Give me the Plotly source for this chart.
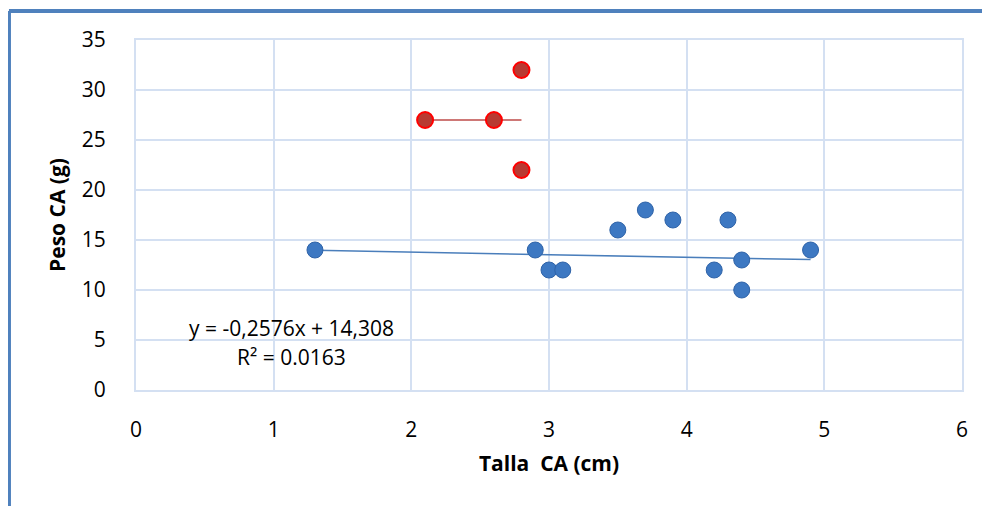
import plotly.graph_objects as go

# Data
talla_blue = [1.3, 2.9, 3.0, 3.1, 3.5, 3.7, 3.9, 4.2, 4.3, 4.4, 4.4, 4.9]
peso_blue = [14, 14, 12, 12, 16, 18, 17, 12, 17, 13, 10, 14]
talla_red = [2.1, 2.6, 2.8, 2.8]
peso_red = [27, 27, 32, 22]
slope_blue, intercept_blue = -0.2576, 14.308
red_trend_y = 27
x_ticks = [0, 1, 2, 3, 4, 5, 6]
y_ticks = [0, 5, 10, 15, 20, 25, 30, 35]

xb0, xb1 = min(talla_blue), max(talla_blue)
xr0, xr1 = min(talla_red), max(talla_red)

fig = go.Figure()
fig.add_trace(go.Scatter(x=[xb0, xb1],
                         y=[slope_blue * xb0 + intercept_blue, slope_blue * xb1 + intercept_blue],
                         mode="lines", line=dict(color="#4a7ebb", width=1.5),
                         hoverinfo="skip", showlegend=False))
fig.add_trace(go.Scatter(x=[xr0, xr1], y=[red_trend_y, red_trend_y],
                         mode="lines", line=dict(color="#be4b48", width=1.5),
                         hoverinfo="skip", showlegend=False))
fig.add_trace(go.Scatter(x=talla_blue, y=peso_blue, mode="markers",
                         marker=dict(size=16, color="#3d78c2",
                                     line=dict(color="#2f63a8", width=1)),
                         showlegend=False))
fig.add_trace(go.Scatter(x=talla_red, y=peso_red, mode="markers",
                         marker=dict(size=16, color="#b83a32",
                                     line=dict(color="#ff0000", width=2)),
                         showlegend=False))

font_family = "Open Sans, Liberation Sans, sans-serif"
fs = 21
fig.add_annotation(x=1.133, y=6.2, xref="x", yref="y", text="y = -0,2576x + 14,308",
                   showarrow=False, font=dict(family=font_family, size=fs, color="#000"))
fig.add_annotation(x=1.133, y=3.3, xref="x", yref="y", text="R² = 0.0163",
                   showarrow=False, font=dict(family=font_family, size=fs, color="#000"))

# Outer blue frame (top and left); plot area spans 826 x 350 px
fig.add_shape(type="line", xref="paper", yref="paper", x0=-0.1538, x1=1.06, y0=1.083, y1=1.083,
              line=dict(color="#4f81bd", width=4))
fig.add_shape(type="line", xref="paper", yref="paper", x0=-0.1538, x1=-0.1538, y0=1.083, y1=-0.37,
              line=dict(color="#4f81bd", width=4))

grid = "#d4e0f2"
fig.update_xaxes(range=[0, 6], tickvals=x_ticks, showgrid=True, gridcolor=grid, gridwidth=1.5,
                 showline=True, linecolor=grid, linewidth=2, mirror=True, zeroline=False,
                 ticklabelstandoff=20,
                 tickfont=dict(family=font_family, size=fs, color="#000"),
                 title=dict(text="<b>Talla  CA (cm)</b>", standoff=14,
                            font=dict(family=font_family, size=fs, color="#000")))
fig.update_yaxes(range=[0, 35], tickvals=y_ticks, showgrid=True, gridcolor=grid, gridwidth=1.5,
                 showline=True, linecolor=grid, linewidth=2, mirror=True, zeroline=False,
                 ticklabelstandoff=24,
                 tickfont=dict(family=font_family, size=fs, color="#000"),
                 title=dict(text="<b>Peso CA (g)</b>", standoff=10,
                            font=dict(family=font_family, size=fs, color="#000")))

fig.update_layout(width=990, height=506, margin=dict(l=128, r=36, t=32, b=124),
                  plot_bgcolor="white", paper_bgcolor="white", showlegend=False)

fig.write_html("out.html")
